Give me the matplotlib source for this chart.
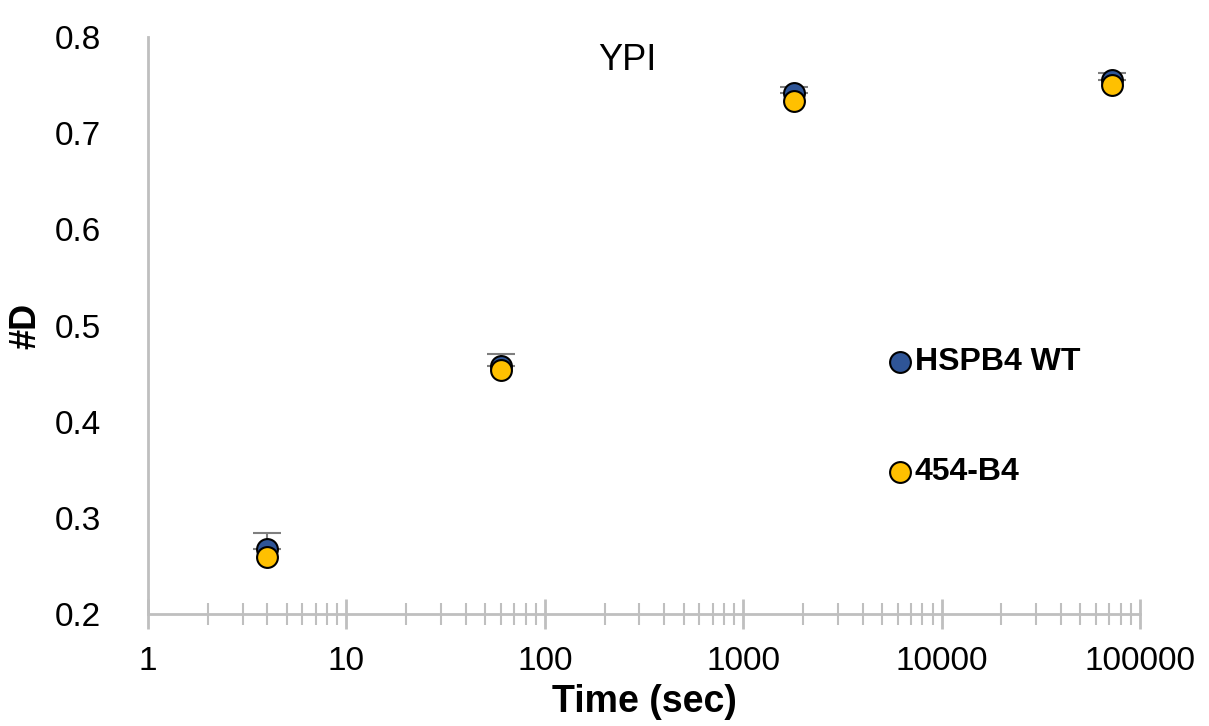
import matplotlib.pyplot as plt
import numpy as np

plt.rcParams['font.family'] = ['Liberation Sans', 'DejaVu Sans']

# data (only the upper error bars are visible)
time_sec = [4, 60, 1800, 72000]
wt_d = [0.268, 0.458, 0.742, 0.755]
wt_err = [0.016, 0.012, 0.006, 0.008]
b4_d = [0.259, 0.454, 0.734, 0.750]
b4_err = [0.003, 0.003, 0.003, 0.003]

blue = '#2f5597'
gold = '#ffc000'
grey = '#bfbfbf'

fig = plt.figure(figsize=(12.09, 7.26), dpi=100)
ax = fig.add_axes([0.1224, 0.154, 0.8206, 0.795])

ax.errorbar(time_sec, wt_d, yerr=[np.zeros(4), wt_err], fmt='none',
            ecolor='#7f7f7f', elinewidth=1.5, capsize=10, capthick=1.5,
            zorder=2)
ax.errorbar(time_sec, b4_d, yerr=[np.zeros(4), b4_err], fmt='none',
            ecolor='#7f7f7f', elinewidth=1.5, capsize=6, capthick=1.5,
            zorder=2)
ax.plot(time_sec, wt_d, 'o', ms=15, mfc=blue, mec='black', mew=1.5, zorder=3)
ax.plot(time_sec, b4_d, 'o', ms=15, mfc=gold, mec='black', mew=1.5, zorder=4)

ax.set_xscale('log')
ax.set_xlim(1, 100000)
ax.set_ylim(0.2, 0.8)
ax.set_yticks(np.arange(0.2, 0.81, 0.1))
ax.set_yticklabels(['0.2', '0.3', '0.4', '0.5', '0.6', '0.7', '0.8'])
ax.set_xticks([1, 10, 100, 1000, 10000, 100000])
ax.set_xticklabels(['1', '10', '100', '1000', '10000', '100000'])

for s in ['top', 'right']:
    ax.spines[s].set_visible(False)
for s in ['left', 'bottom']:
    ax.spines[s].set_color(grey)
    ax.spines[s].set_linewidth(2)

ax.tick_params(axis='y', length=0, labelsize=24, pad=34)
ax.tick_params(axis='x', which='major', direction='inout', length=22,
               width=2, color=grey, labelsize=24, pad=12)
ax.tick_params(axis='x', which='minor', direction='inout', length=16,
               width=1.5, color=grey)

ax.set_xlabel('Time (sec)', fontsize=27, fontweight='bold', labelpad=5)
ax.set_ylabel('#D', fontsize=26, fontweight='bold', labelpad=8)
ax.text(0.483, 0.99, 'YPI', transform=ax.transAxes, fontsize=26,
        ha='center', va='top')

# legend as plain text next to markers
ax.plot([0.758], [0.437], 'o', ms=15, mfc=blue, mec='black', mew=1.5,
        transform=ax.transAxes, clip_on=False)
ax.plot([0.758], [0.246], 'o', ms=15, mfc=gold, mec='black', mew=1.5,
        transform=ax.transAxes, clip_on=False)
ax.text(0.773, 0.437, 'HSPB4 WT', transform=ax.transAxes, fontsize=23,
        fontweight='bold', va='center')
ax.text(0.773, 0.246, '454-B4', transform=ax.transAxes, fontsize=23,
        fontweight='bold', va='center')

fig.savefig('out.png', dpi=100)
